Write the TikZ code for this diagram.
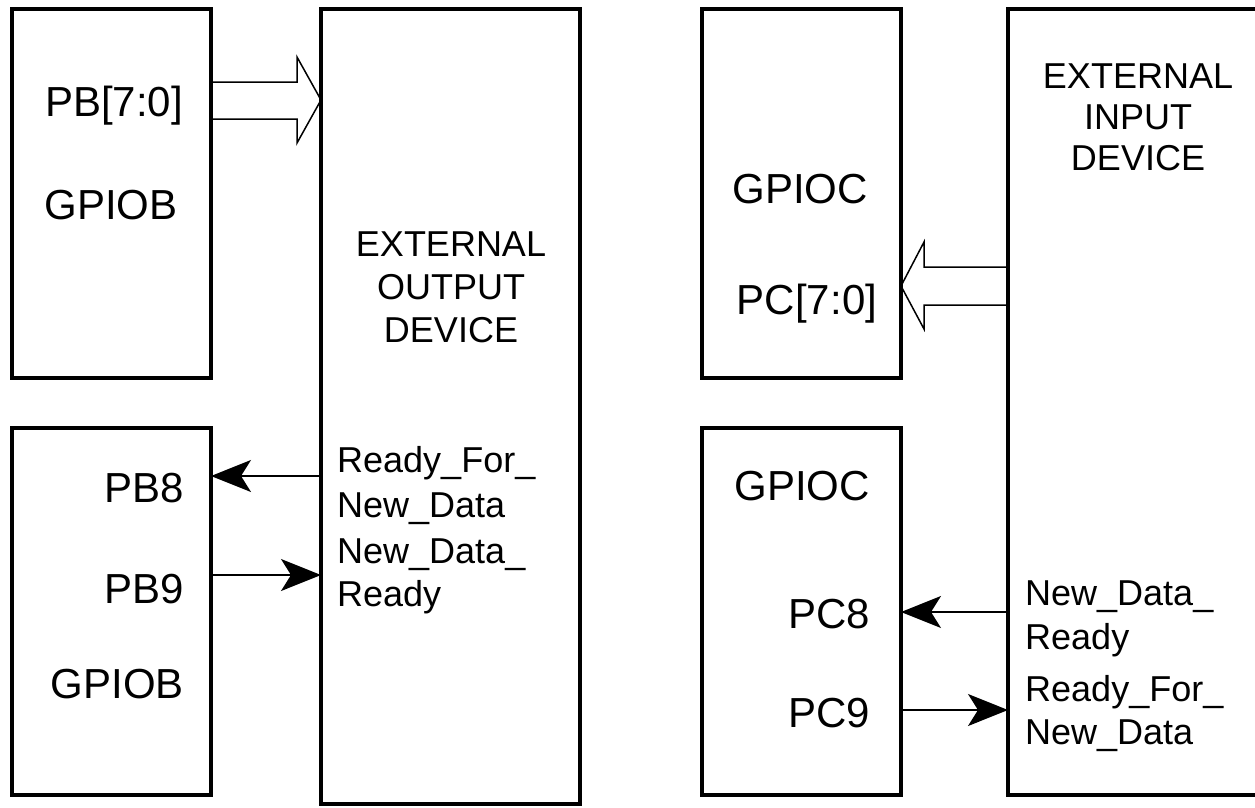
\documentclass[tikz,border=0pt]{standalone}
\usepackage{fontspec}
\setmainfont{Liberation Sans}
\usetikzlibrary{arrows.meta}
\begin{document}
\begin{tikzpicture}[x=1pt,y=-1pt,
  box/.style={draw, line width=4pt, inner sep=0pt, outer sep=0pt},
  big/.style={inner sep=0pt, font=\fontsize{42}{50}\selectfont},
  small/.style={inner sep=0pt, font=\fontsize{36}{44}\selectfont},
  sig/.style={line width=1.5pt, -{Stealth[length=40pt,width=32pt,inset=10pt]}},
  bus/.style={line width=1.5pt, line join=miter}]
\useasboundingbox (0,0) rectangle (1255,807);
% boxes
\node[box, minimum width=199pt, minimum height=369pt] (b1) at (111.5,193.5) {};
\node[box, minimum width=259pt, minimum height=795pt] (b2) at (450.5,406.5) {};
\node[box, minimum width=199pt, minimum height=367pt] (b3) at (111.5,611.5) {};
\node[box, minimum width=199pt, minimum height=369pt] (b4) at (801.5,193.5) {};
\node[box, minimum width=199pt, minimum height=367pt] (b5) at (801.5,611.5) {};
\node[box, minimum width=262pt, minimum height=786pt] (b6) at (1139,402) {};
% texts
\node[big, anchor=base] (t1) at (114,116) {PB[7:0]};
\node[big, anchor=base] (t2) at (111,219) {GPIOB};
\node[big, anchor=base east] (t3) at (184,502) {PB8};
\node[big, anchor=base east] (t4) at (184,603) {PB9};
\node[big, anchor=base east] (t5) at (184,698) {GPIOB};
\node[small, anchor=north, align=center, font=\fontsize{36}{43}\selectfont] (t6) at (451,232) {EXTERNAL\\OUTPUT\\DEVICE};
\node[small, anchor=north west, align=left, font=\fontsize{36}{45}\selectfont] (t7) at (337,446) {Ready\_For\_\\New\_Data};
\node[small, anchor=north west, align=left, font=\fontsize{36}{43}\selectfont] (t8) at (337,539) {New\_Data\_\\Ready};
\node[big, anchor=base] (t9) at (800,203) {GPIOC};
\node[big, anchor=base] (t10) at (807,314) {PC[7:0]};
\node[big, anchor=base east] (t11) at (870,500) {GPIOC};
\node[big, anchor=base east] (t12) at (870,628) {PC8};
\node[big, anchor=base east] (t13) at (870,727) {PC9};
\node[small, anchor=north, align=center, font=\fontsize{36}{41}\selectfont] (t14) at (1138,64) {EXTERNAL\\INPUT\\DEVICE};
\node[small, anchor=north west, align=left, font=\fontsize{36}{44}\selectfont] (t15) at (1025,581) {New\_Data\_\\Ready};
\node[small, anchor=north west, align=left, font=\fontsize{36}{43}\selectfont] (t16) at (1025,675) {Ready\_For\_\\New\_Data};
% signal rows
\coordinate (r1) at (0,476);
\coordinate (r2) at (0,575);
\coordinate (r3) at (0,612);
\coordinate (r4) at (0,710);
\draw[sig] (b2.west |- r1) -- (b3.east |- r1);
\draw[sig] (b3.east |- r2) -- (b2.west |- r2);
\draw[sig] (b6.west |- r3) -- (b5.east |- r3);
\draw[sig] (b5.east |- r4) -- (b6.west |- r4);
% bus arrows
\coordinate (p1) at (0,100);
\coordinate (p2) at (0,286);
\draw[bus] (b1.east |- 0,82) -- (297,82) -- (297,57) -- (b2.west |- p1) -- (297,143) -- (297,119) -- (b1.east |- 0,119);
\draw[bus] (b6.west |- 0,267) -- (924,267) -- (924,242) -- (b4.east |- p2) -- (924,329) -- (924,305) -- (b6.west |- 0,305);
\end{tikzpicture}
\end{document}
